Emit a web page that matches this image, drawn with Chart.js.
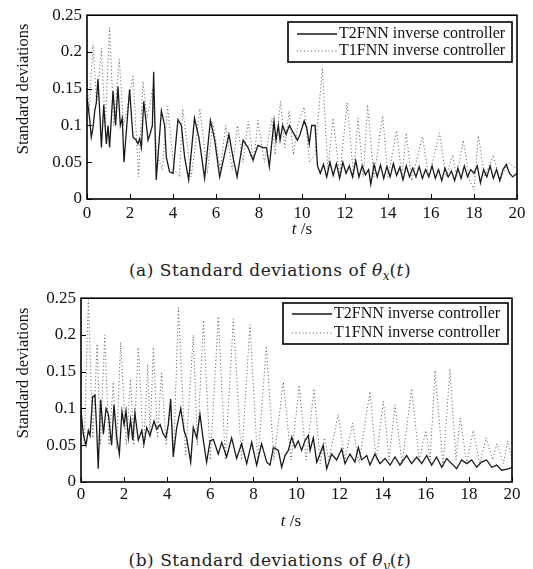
<!DOCTYPE html>
<html>
<head>
<meta charset="utf-8">
<script src="https://cdn.jsdelivr.net/npm/chart.js@4.4.0/dist/chart.umd.min.js"></script>
<style>
  body { margin: 0; background: #fff; }
  #wrap { position: relative; width: 533px; height: 569px; background: #fff; overflow: hidden; }
  canvas { position: absolute; left: 0; }
  .cap { position: absolute; left: 0; width: 540px; text-align: center; font-family: "DejaVu Serif", serif; font-size: 17px; letter-spacing: 0.5px; line-height: 20px; color: #222; white-space: nowrap; }
  .cap sub { font-size: 12px; letter-spacing: 0; }
</style>
</head>
<body>
<div id="wrap">
  <canvas id="chartA" width="533" height="250" style="top:0"></canvas>
  <div class="cap" style="top:260px">(a) Standard deviations of <i>θ</i><sub><i>x</i></sub>(<i>t</i>)</div>
  <canvas id="chartB" width="533" height="250" style="top:283px"></canvas>
  <div class="cap" style="top:550px">(b) Standard deviations of <i>θ</i><sub><i>y</i></sub>(<i>t</i>)</div>
</div>
<script>
const seriesNames = ['T2FNN inverse controller', 'T1FNN inverse controller'];
const xTicks = [0, 2, 4, 6, 8, 10, 12, 14, 16, 18, 20];
const yTicks = [0, 0.05, 0.1, 0.15, 0.2, 0.25];

// (a) theta_x, T2FNN (solid)
const timeA2 = [0,0.12,0.2,0.28,0.36,0.43,0.51,0.59,0.67,0.78, 0.9,0.98,1.05,1.21,1.33,1.44,1.55,1.64,1.72,1.98,
  2.14,2.29,2.37,2.45,2.53,2.64,2.84,2.95,3.04,3.1, 3.22,3.46,3.61,3.69,3.84,4.0,4.23,4.39,4.54,4.73,
  5.0,5.2,5.32,5.47,5.74,5.94,6.17,6.6,6.79,6.98, 7.26,7.49,7.72,7.95,8.19,8.35,8.48,8.7,8.79,8.9,
  8.98,9.1,9.26,9.41,9.6,9.79,9.91,10.1,10.22,10.34, 10.45,10.61,10.72,
  10.85,11.0,11.15,11.3,11.45,11.6,11.75,11.9,12.05,12.2, 12.35,12.5,12.65,12.8,12.95,13.1,13.2,13.35,13.5,13.65,
  13.8,13.95,14.1,14.25,14.4,14.55,14.7,14.85,15.0,15.15, 15.3,15.45,15.6,15.75,15.9,16.05,16.2,16.35,16.5,16.65,
  16.8,16.95,17.1,17.25,17.4,17.55,17.7,17.85,18.0,18.15, 18.3,18.45,18.6,18.75,18.9,19.05,19.2,19.35,19.5,19.65,
  19.8,20.0];
const valueA2 = [0.137,0.11,0.084,0.097,0.12,0.13,0.163,0.12,0.07,0.128, 0.075,0.1,0.07,0.147,0.1,0.153,0.1,0.11,0.05,0.149,
  0.084,0.08,0.075,0.082,0.07,0.133,0.08,0.09,0.1,0.173, 0.026,0.12,0.1,0.057,0.037,0.035,0.108,0.1,0.057,0.026,
  0.11,0.084,0.06,0.028,0.107,0.08,0.03,0.088,0.057,0.03, 0.08,0.07,0.053,0.073,0.07,0.07,0.044,0.106,0.08,0.1,
  0.08,0.1,0.088,0.1,0.09,0.08,0.088,0.106,0.097,0.075, 0.1,0.1,0.045,
  0.035,0.047,0.03,0.05,0.032,0.048,0.028,0.05,0.035,0.045, 0.03,0.052,0.03,0.045,0.033,0.04,0.02,0.047,0.03,0.046,
  0.028,0.044,0.03,0.048,0.032,0.043,0.026,0.045,0.03,0.042, 0.03,0.044,0.028,0.04,0.03,0.045,0.028,0.04,0.025,0.042,
  0.03,0.038,0.025,0.042,0.028,0.045,0.03,0.04,0.035,0.045, 0.022,0.04,0.03,0.045,0.028,0.04,0.025,0.04,0.047,0.035,
  0.03,0.035];

// (a) theta_x, T1FNN (dotted)
const timeA1 = [0,0.1,0.28,0.45,0.67,0.85,1.05,1.25,1.5,1.7, 1.85,2.14,2.4,2.6,2.8,3.05,3.25,3.5,3.75,4.05,
  4.3,4.45,4.85,5.25,5.6,5.85,6.2,6.45,6.75,7.0, 7.25,7.5,7.75,7.95,8.25,8.6,8.75,9.0,9.2,9.4,
  9.6,9.8,10.1,10.35,10.6,10.95,11.2,11.45,11.75,12.1, 12.4,12.6,12.85,13.05,13.35,13.75,14.0,14.4,14.65,14.85,
  15.1,15.6,15.9,16.4,16.7,17.0,17.2,17.5,17.8,18.0, 18.2,18.5,18.9,19.2,19.6,20.0];
const valueA1 = [0.16,0.12,0.21,0.13,0.205,0.1,0.233,0.1,0.19,0.1, 0.12,0.167,0.03,0.16,0.11,0.15,0.06,0.04,0.126,0.04,
  0.03,0.123,0.03,0.123,0.035,0.104,0.04,0.1,0.04,0.1, 0.05,0.106,0.05,0.107,0.05,0.11,0.06,0.133,0.07,0.12,
  0.06,0.1,0.125,0.05,0.06,0.178,0.04,0.11,0.03,0.131, 0.03,0.11,0.03,0.128,0.03,0.113,0.03,0.093,0.03,0.09,
  0.025,0.085,0.03,0.09,0.03,0.06,0.03,0.08,0.025,0.012, 0.086,0.03,0.06,0.025,0.05,0.04];

// (b) theta_y, T2FNN (solid)
const timeB2 = [0,0.11,0.23,0.34,0.42,0.54,0.65,0.73,0.8,0.91, 1.04,1.16,1.27,1.42,1.53,1.66,1.78,1.9,2.0,2.09,
  2.2,2.3,2.4,2.5,2.66,2.82,2.92,3.05,3.2,3.39, 3.51,3.67,3.82,3.94,4.05,4.16,4.28,4.44,4.63,4.78,
  4.9,5.09,5.21,5.37,5.52,5.68,5.83,5.99,6.14,6.37, 6.53,6.76,6.99,7.22,7.45,7.69,7.92,8.15,8.38,8.62,
  8.77,8.93,9.16,9.31,9.47,9.62,9.78,9.93,10.08,10.24, 10.39,10.55,10.63,10.78,10.94,11.09,11.24,11.4,11.63,11.86,
  12.1,12.25,12.48,12.71,12.87,13.02,13.26,13.41,13.64,13.87, 14.11,14.34,14.57,14.8,15.11,15.34,15.58,15.81,16.04,16.27,
  16.5,16.74,16.97,17.2,17.43,17.66,17.9,18.13,18.36,18.59, 18.82,19.06,19.29,19.52,19.83,20];
const valueB2 = [0.096,0.065,0.05,0.07,0.063,0.116,0.118,0.07,0.018,0.112, 0.065,0.1,0.092,0.05,0.105,0.06,0.038,0.096,0.078,0.097,
  0.06,0.085,0.057,0.094,0.057,0.07,0.052,0.074,0.063,0.083, 0.072,0.078,0.065,0.06,0.078,0.113,0.034,0.074,0.1,0.07,
  0.06,0.027,0.074,0.06,0.092,0.056,0.027,0.056,0.058,0.038, 0.054,0.034,0.06,0.032,0.052,0.025,0.054,0.023,0.052,0.027,
  0.023,0.047,0.043,0.02,0.036,0.043,0.061,0.047,0.056,0.043, 0.056,0.063,0.043,0.06,0.027,0.038,0.05,0.018,0.038,0.03,
  0.045,0.025,0.038,0.027,0.047,0.03,0.036,0.023,0.038,0.025, 0.032,0.023,0.034,0.023,0.036,0.025,0.034,0.025,0.036,0.023,
  0.034,0.02,0.032,0.025,0.018,0.03,0.025,0.03,0.02,0.027, 0.03,0.02,0.023,0.016,0.018,0.02];

// (b) theta_y, T1FNN (dotted)
const timeB1 = [0,0.15,0.34,0.55,0.75,0.9,1.1,1.3,1.5,1.65, 1.84,2.1,2.3,2.45,2.66,2.9,3.1,3.2,3.36,3.55,
  3.74,3.95,4.15,4.3,4.52,4.85,5.21,5.4,5.68,6.0, 6.37,6.7,7.07,7.45,7.84,8.2,8.6,8.95,9.39,9.75,
  10.13,10.45,10.81,11.1,11.3,11.5,11.94,12.25,12.6,12.9, 13.41,13.7,14.03,14.3,14.57,14.9,15.34,15.7,16.0,16.2,
  16.43,16.8,17.12,17.4,17.6,17.9,18.2,18.5,18.8,19.1, 19.3,19.6,19.8,20];
const valueB1 = [0.1,0.05,0.248,0.06,0.188,0.05,0.2,0.05,0.136,0.045, 0.19,0.05,0.14,0.05,0.183,0.045,0.16,0.06,0.183,0.06,
  0.15,0.05,0.1,0.04,0.237,0.035,0.2,0.05,0.22,0.03, 0.225,0.03,0.222,0.03,0.214,0.025,0.185,0.03,0.136,0.03,
  0.132,0.03,0.127,0.025,0.06,0.03,0.092,0.03,0.08,0.025, 0.123,0.03,0.11,0.03,0.105,0.025,0.127,0.03,0.07,0.03,
  0.152,0.02,0.154,0.03,0.087,0.025,0.07,0.025,0.06,0.03, 0.052,0.025,0.056,0.03];

function pairs(ts, vs) {
  if (ts.length !== vs.length) throw new Error('length mismatch ' + ts.length + ' vs ' + vs.length);
  return ts.map((t, i) => ({ x: t, y: vs[i] }));
}

const serif = '"Liberation Serif", "Times New Roman", serif';

// frame, inward ticks, legend box and axis titles in the MATLAB style
const framePlugin = {
  id: 'frame',
  afterDraw(chart, args, opts) {
    const { ctx, chartArea: a, scales } = chart;
    ctx.save();
    ctx.strokeStyle = '#000';
    ctx.lineWidth = 1;
    ctx.beginPath();
    xTicks.forEach(v => {
      const px = Math.round(scales.x.getPixelForValue(v)) + 0.5;
      ctx.moveTo(px, a.bottom); ctx.lineTo(px, a.bottom - 5);
    });
    yTicks.forEach(v => {
      const py = Math.round(scales.y.getPixelForValue(v)) + 0.5;
      ctx.moveTo(a.left, py); ctx.lineTo(a.left + 5, py);
    });
    ctx.stroke();
    ctx.lineWidth = 1.6;
    ctx.strokeRect(a.left, a.top, a.right - a.left, a.bottom - a.top);

    // legend
    const L = opts.legend;
    ctx.fillStyle = '#fff';
    ctx.fillRect(L.x, L.y, L.w, L.h);
    ctx.lineWidth = 1.6;
    ctx.strokeStyle = '#000';
    ctx.strokeRect(L.x, L.y, L.w, L.h);
    ctx.font = '16px ' + serif;
    ctx.textBaseline = 'middle';
    ctx.textAlign = 'left';
    chart.data.datasets.forEach((ds, i) => {
      const ry = L.rows[i];
      ctx.beginPath();
      ctx.strokeStyle = ds.borderColor;
      ctx.lineWidth = ds.borderWidth;
      ctx.setLineDash(ds.borderDash || []);
      ctx.moveTo(L.lineX[0], ry); ctx.lineTo(L.lineX[1], ry);
      ctx.stroke();
      ctx.setLineDash([]);
      ctx.fillStyle = '#111';
      ctx.fillText(ds.label, L.textX, ry);
    });

    // y title
    ctx.fillStyle = '#111';
    ctx.save();
    ctx.translate(opts.yTitle.x, opts.yTitle.y);
    ctx.rotate(-Math.PI / 2);
    ctx.textAlign = 'center';
    ctx.textBaseline = 'middle';
    ctx.font = '16.5px ' + serif;
    ctx.fillText('Standard deviations', 0, 0);
    ctx.restore();

    // x title: italic t, upright /s
    ctx.textBaseline = 'middle';
    ctx.font = 'italic 17px ' + serif;
    const w1 = ctx.measureText('t').width;
    ctx.font = '17px ' + serif;
    const w2 = ctx.measureText(' /s').width;
    const x0 = opts.xTitle.x - (w1 + w2) / 2;
    ctx.textAlign = 'left';
    ctx.font = 'italic 17px ' + serif;
    ctx.fillText('t', x0, opts.xTitle.y);
    ctx.font = '17px ' + serif;
    ctx.fillText(' /s', x0 + w1, opts.xTitle.y);
    ctx.restore();
  }
};

function makeChart(id, solid, dotted, yAxisWidth, padRight, xPad, frameOpts) {
  return new Chart(document.getElementById(id), {
    type: 'line',
    data: {
      datasets: [{
        label: seriesNames[0],
        data: solid,
        borderColor: '#1a1a1a',
        borderWidth: 1.3,
        pointRadius: 0,
        tension: 0,
        order: 0
      }, {
        label: seriesNames[1],
        data: dotted,
        borderColor: '#555',
        borderWidth: 1,
        borderDash: [1, 2.5],
        pointRadius: 0,
        tension: 0,
        order: 1
      }]
    },
    options: {
      responsive: false,
      animation: false,
      layout: { autoPadding: false, padding: { left: 0, right: padRight, top: 12, bottom: 0 } },
      plugins: { legend: { display: false }, tooltip: { enabled: false }, frame: frameOpts },
      scales: {
        x: {
          type: 'linear', min: 0, max: 20,
          afterFit: s => { s.height = 51; },
          afterBuildTicks: s => { s.ticks = xTicks.map(v => ({ value: v })); },
          grid: { display: false, drawTicks: false },
          border: { display: false },
          ticks: { color: '#111', font: { family: serif, size: 17 }, padding: xPad, maxRotation: 0, autoSkip: false }
        },
        y: {
          type: 'linear', min: 0, max: 0.25,
          afterFit: s => { s.width = yAxisWidth; },
          afterBuildTicks: s => { s.ticks = yTicks.map(v => ({ value: v })); },
          grid: { display: false, drawTicks: false },
          border: { display: false },
          ticks: { color: '#111', font: { family: serif, size: 17 }, padding: 5,
            callback: v => String(+Number(v).toFixed(2)) }
        }
      }
    },
    plugins: [framePlugin]
  });
}

makeChart('chartA', pairs(timeA2, valueA2), pairs(timeA1, valueA1), 87, 16, 4, {
  legend: { x: 288, y: 22, w: 224, h: 40, rows: [34, 51], lineX: [297, 337], textX: 339 },
  yTitle: { x: 24, y: 89 },
  xTitle: { x: 302, y: 230 }
});
makeChart('chartB', pairs(timeB2, valueB2), pairs(timeB1, valueB1), 81, 21, 2, {
  legend: { x: 283, y: 20, w: 225, h: 41, rows: [31, 50], lineX: [292, 332], textX: 334 },
  yTitle: { x: 24, y: 90 },
  xTitle: { x: 291, y: 239 }
});
</script>
</body>
</html>
